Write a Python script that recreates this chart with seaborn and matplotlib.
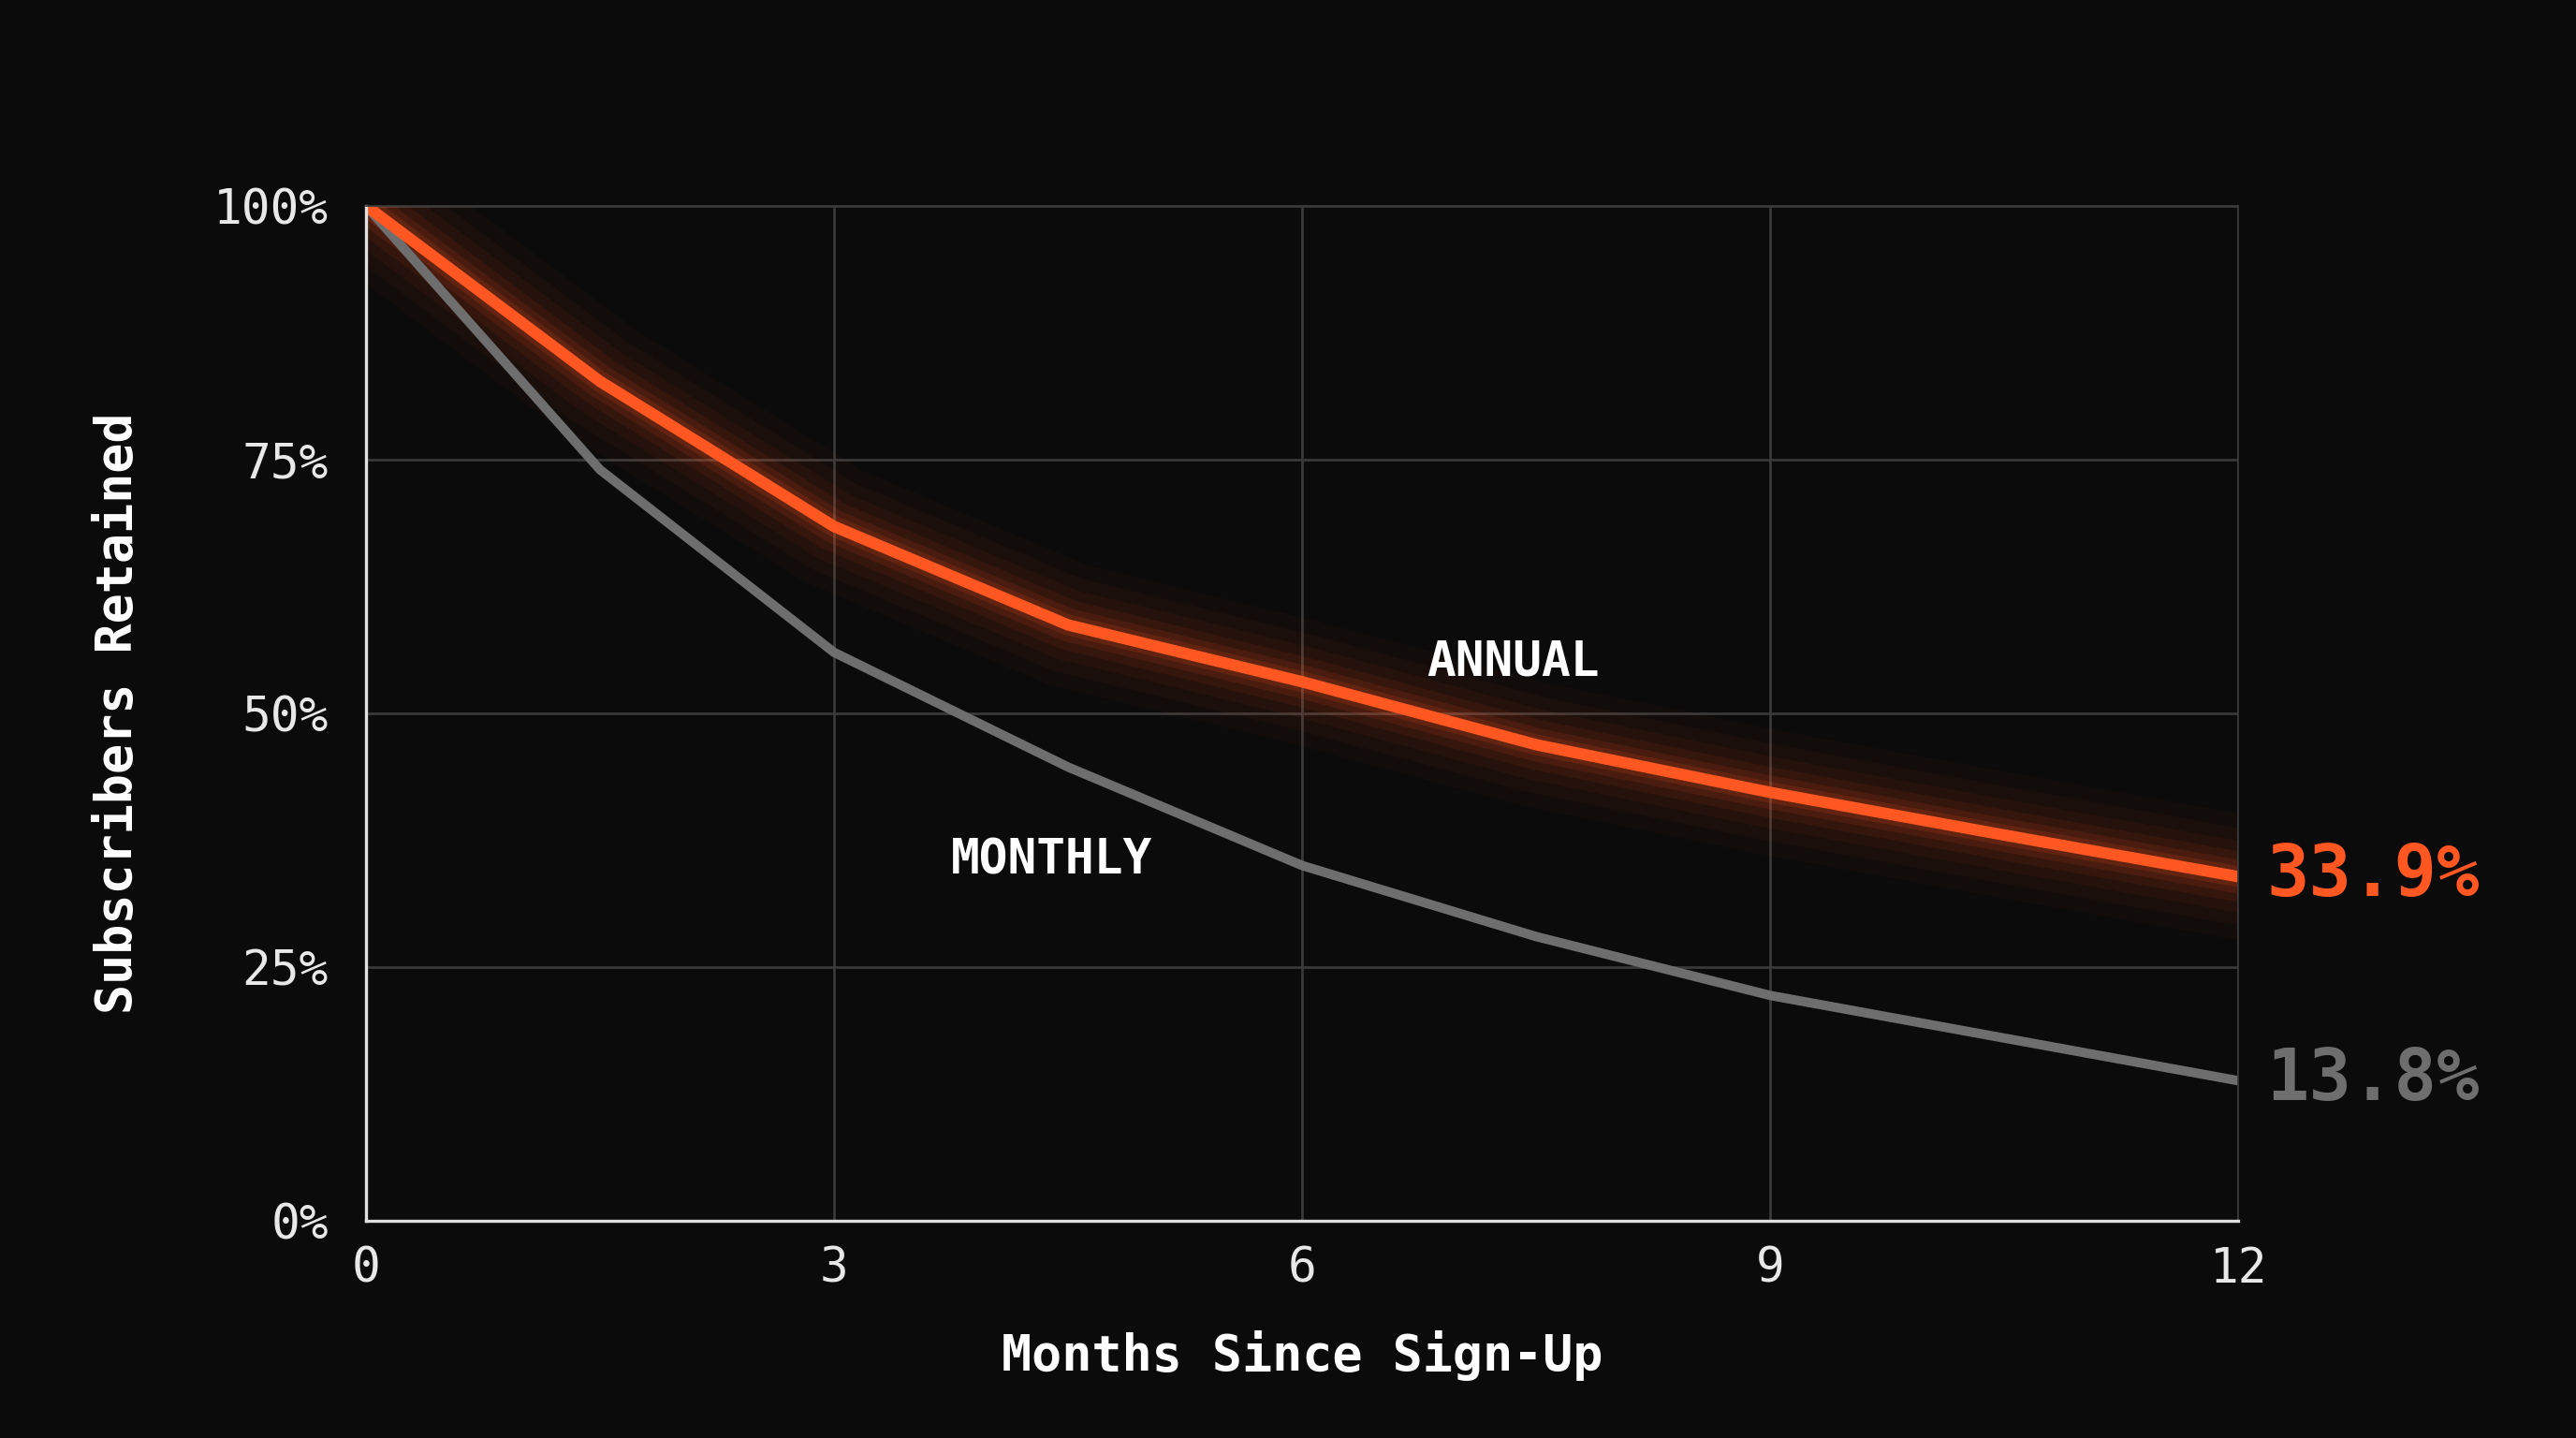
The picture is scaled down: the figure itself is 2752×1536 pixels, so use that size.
import matplotlib
matplotlib.use("Agg")
import matplotlib.pyplot as plt
import seaborn as sns
import pandas as pd

months = [0, 1.5, 3, 4.5, 6, 7.5, 9, 10.5, 12]
annual = [100, 82.7, 68.4, 58.7, 53.1, 46.9, 42.2, 38.0, 33.9]
monthly = [100, 74.0, 56.0, 44.7, 35.0, 28.0, 22.2, 18.0, 13.8]
x_ticks = [0, 3, 6, 9, 12]
y_ticks = [0, 25, 50, 75, 100]
y_labels = ["0%", "25%", "50%", "75%", "100%"]

sns.set_style("dark")
plt.rcParams['font.family'] = ['DejaVu Sans Mono', 'DejaVu Sans']
BG = "#0b0b0b"
ORANGE = "#ff5722"
GREY = "#6e6e6e"

fig = plt.figure(figsize=(17.2, 9.6), dpi=160, facecolor=BG)
ax = fig.add_axes([0.142, 0.151, 0.727, 0.706])
ax.set_facecolor(BG)

df = pd.DataFrame({"m": months, "a": annual, "mo": monthly})

for lw, al in [(60, 0.03), (46, 0.04), (34, 0.05), (24, 0.07), (16, 0.10), (10, 0.14)]:
    sns.lineplot(data=df, x="m", y="a", ax=ax, color=ORANGE, lw=lw, alpha=al,
                 solid_capstyle="round", solid_joinstyle="round")
sns.lineplot(data=df, x="m", y="mo", ax=ax, color=GREY, lw=4.5, solid_joinstyle="round")
sns.lineplot(data=df, x="m", y="a", ax=ax, color=ORANGE, lw=5.5, solid_joinstyle="round")

ax.set_xlim(0, 12)
ax.set_ylim(0, 100)
ax.set_xticks(x_ticks)
ax.set_yticks(y_ticks)
ax.set_yticklabels(y_labels)
ax.tick_params(colors="#e8e8e8", labelsize=23, length=0)
ax.tick_params(axis="y", pad=18)
ax.tick_params(axis="x", pad=12)
ax.grid(True, color="#3a3a3a", lw=1.2)
for s in ["top", "right"]:
    ax.spines[s].set_color("#3a3a3a")
for s in ["left", "bottom"]:
    ax.spines[s].set_color("#e0e0e0")
    ax.spines[s].set_linewidth(1.5)

ax.set_xlabel("Months Since Sign-Up", color="white", fontsize=24, fontweight="bold", labelpad=18)
ax.set_ylabel("Subscribers Retained", color="white", fontsize=24, fontweight="bold", labelpad=34)

ax.text(6.8, 55, "ANNUAL", color="white", fontsize=23, fontweight="bold", va="center")
ax.text(3.75, 35.5, "MONTHLY", color="white", fontsize=23, fontweight="bold", va="center")
ax.text(12.18, annual[-1], f"{annual[-1]}%", color=ORANGE, fontsize=34, fontweight="bold", va="center")
ax.text(12.18, monthly[-1], f"{monthly[-1]}%", color=GREY, fontsize=34, fontweight="bold", va="center")

fig.savefig("out.png", dpi=160, facecolor=BG)
